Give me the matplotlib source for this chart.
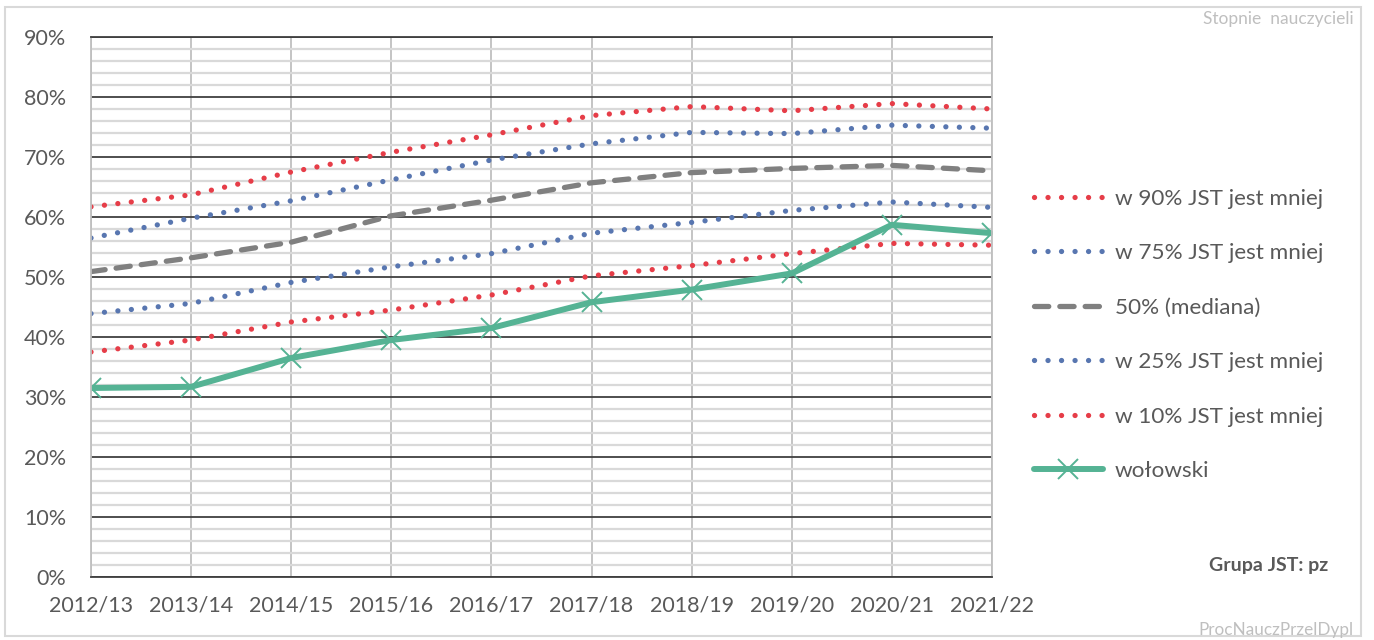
import matplotlib.pyplot as plt
from matplotlib.ticker import MultipleLocator, FuncFormatter
from matplotlib.patches import Rectangle

plt.rcParams['font.family'] = ['Lato', 'DejaVu Sans']

years = ['2012/13', '2013/14', '2014/15', '2015/16', '2016/17',
         '2017/18', '2018/19', '2019/20', '2020/21', '2021/22']

p90 = [61.7, 63.7, 67.5, 70.8, 73.7, 76.9, 78.4, 77.7, 78.9, 78.0]
p75 = [56.5, 59.8, 62.7, 66.2, 69.5, 72.2, 74.1, 73.9, 75.3, 74.8]
p50 = [50.9, 53.2, 55.8, 60.2, 62.8, 65.7, 67.4, 68.1, 68.6, 67.7]
p25 = [43.9, 45.6, 49.1, 51.7, 53.9, 57.3, 59.1, 61.1, 62.5, 61.6]
p10 = [37.5, 39.5, 42.5, 44.5, 47.0, 50.2, 51.9, 53.9, 55.6, 55.3]
wolowski = [31.5, 31.7, 36.5, 39.5, 41.5, 45.8, 47.9, 50.6, 58.7, 57.3]

red = '#E63D48'
blue = '#5876B0'
gray = '#808080'
green = '#55B394'
txt = '#595959'

fig = plt.figure(figsize=(13.74, 6.40), dpi=100)
ax = fig.add_axes([91/1374, 63/640, 901/1374, 540/640])

x = range(len(years))
dots = dict(lw=3.8, linestyle=(0, (0.01, 2.55)), dash_capstyle='round')
ax.plot(x, p90, color=red, label='w 90% JST jest mniej', **dots)
ax.plot(x, p75, color=blue, label='w 75% JST jest mniej', **dots)
ax.plot(x, p50, color=gray, lw=3.8, linestyle=(0, (2.7, 2.1)),
        dash_capstyle='round', label='50% (mediana)')
ax.plot(x, p25, color=blue, label='w 25% JST jest mniej', **dots)
ax.plot(x, p10, color=red, label='w 10% JST jest mniej', **dots)
ax.plot(x, wolowski, color=green, lw=4.3, marker='x', markersize=14,
        markeredgewidth=1.4, solid_capstyle='round', label='wołowski')

# axes + grid
ax.set_xlim(0, len(years) - 1)
ax.set_ylim(0, 90)
ax.set_xticks(list(x))
ax.set_xticklabels(years)
ax.yaxis.set_major_locator(MultipleLocator(10))
ax.yaxis.set_minor_locator(MultipleLocator(2))
ax.yaxis.set_major_formatter(FuncFormatter(lambda v, p: '%d%%' % v))
ax.grid(axis='y', which='minor', color='#D9D9D9', lw=1.6, zorder=0)
ax.grid(axis='y', which='major', color='#404040', lw=1.3, zorder=1)
ax.grid(axis='x', which='major', color='#BFBFBF', lw=1.3, zorder=0)
ax.set_axisbelow(True)
ax.tick_params(axis='both', which='both', length=0, labelsize=15.5,
               labelcolor=txt)
ax.tick_params(axis='y', pad=18)
ax.tick_params(axis='x', pad=13)
for s in ['left', 'right']:
    ax.spines[s].set_color('#BFBFBF')
    ax.spines[s].set_linewidth(1.3)
for s in ['top', 'bottom']:
    ax.spines[s].set_color('#404040')
    ax.spines[s].set_linewidth(1.3)

leg = fig.legend(loc='center left', bbox_to_anchor=(1034/1374, 1 - 335/640),
                 frameon=False, fontsize=16.2, labelcolor=txt, borderpad=0,
                 borderaxespad=0, handlelength=3.05, handletextpad=0.55,
                 labelspacing=1.53)

# texts and frame
fig.text(1354/1374, 1 - 19/640, 'Stopnie  nauczycieli', ha='right',
         va='center', fontsize=12.5, color='#BFBFBF')
fig.text(1328/1374, 1 - 566/640, 'Grupa JST: pz', ha='right', va='center',
         fontsize=14, fontweight='bold', color=txt)
fig.text(1354/1374, 1 - 630/640, 'ProcNauczPrzelDypl', ha='right',
         va='center', fontsize=12.3, color='#BFBFBF')
fig.patches.append(Rectangle((5/1374, 4/640), 1356/1374, 629/640,
                             transform=fig.transFigure, fill=False,
                             edgecolor='#D9D9D9', lw=1.5))

plt.savefig('out.png')
